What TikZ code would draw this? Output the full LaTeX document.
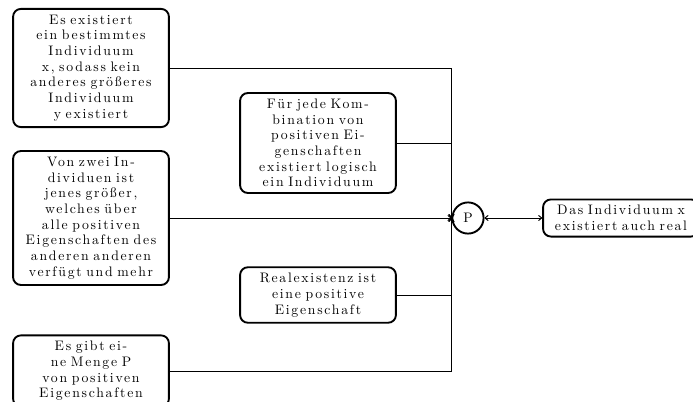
\documentclass[tikz,border=0pt]{standalone}
\usepackage{fontspec}
\newfontfamily\boxfont{lmroman10-regular.otf}[LetterSpace=12.5]
\newcommand\boxtxt{\boxfont\fontsize{10.6}{12.1}\selectfont\spaceskip=0.7em plus 0.1em minus 0.05em\relax}
\usetikzlibrary{arrows.meta}
\begin{document}
\begin{tikzpicture}[x=0.77pt,y=-0.77pt,
  txt/.style={font=\boxtxt},
  premise/.style={txt,draw,line width=1.45pt,rounded corners=6pt,text width=116pt,align=center,inner xsep=2pt,inner ysep=4.5pt},
  pnode/.style={txt,draw,line width=1.45pt,circle,minimum size=24pt,inner sep=0pt},
  conn/.style={line width=0.75pt,-{To[length=3pt,width=4.5pt]}},
  conn2/.style={line width=0.75pt,{To[length=3pt,width=4.5pt]}-{To[length=3pt,width=4.5pt]}}]
\useasboundingbox (0,0) rectangle (693,401);
\begin{scope}
\clip (0,0) rectangle (693,401);
\node[premise] (a) at (91,68) {Es existiert\\ein bestimmtes\\Individuum\\x, sodass kein\\anderes größeres\\Individuum\\y existiert};
\node[premise] (b) at (91,218) {Von zwei In-\\dividuen ist\\jenes größer,\\welches über\\alle positiven\\Eigenschaften des\\anderen anderen\\verfügt und mehr};
\node[premise] (c) at (91,371) {Es gibt ei-\\ne Menge P\\von positiven\\Eigenschaften};
\node[premise] (d) at (318,143) {Für jede Kom-\\bination von\\positiven Ei-\\genschaften\\existiert logisch\\ein Individuum};
\node[premise] (e) at (318,295) {Realexistenz ist\\eine positive\\Eigenschaft};
\node[pnode] (p) at (468,218) {P};
\node[premise] (o) at (621,218) {Das Individuum x\\existiert auch real};
\draw[conn] (a.east) -| (p.west);
\draw[conn] (d.east) -| (p.west);
\draw[conn] (b.east) -- (p.west);
\draw[conn] (e.east) -| (p.west);
\draw[conn] (c.east) -| (p.west);
\draw[conn2] (p.east) -- (o.west);
\end{scope}
\end{tikzpicture}
\end{document}
